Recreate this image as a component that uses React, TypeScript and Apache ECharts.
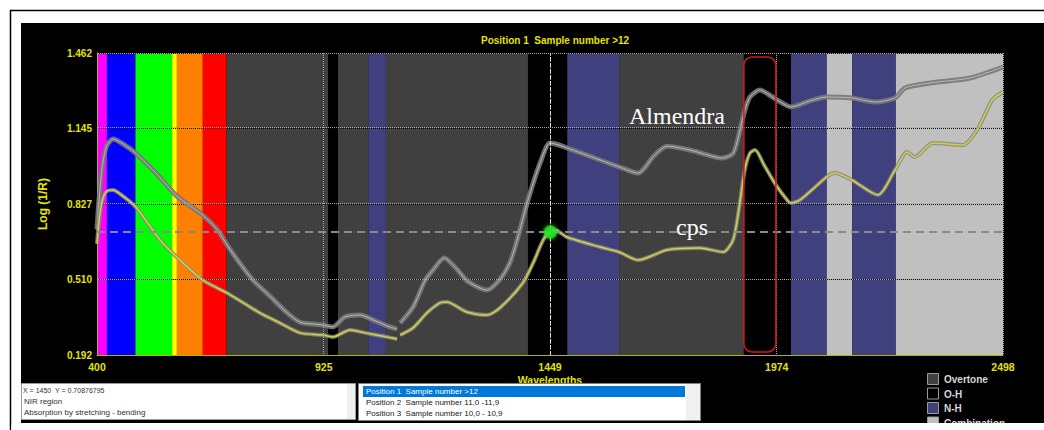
import React, { useEffect, useRef } from "react";
import * as echarts from "echarts";

// Axis ticks
const wavelengthTicks = [400, 925, 1449, 1974, 2498];
const logTicks = [0.192, 0.51, 0.827, 1.145, 1.462];

// Mean spectra, [wavelength nm, log(1/R)]; the '-' marks the detector change at 1100 nm
const almendra: (number | string)[][] = [
  [400, 0.72], [405, 0.85], [412, 0.98], [422, 1.07], [437, 1.1], [460, 1.08], [490, 1.04],
  [540, 0.95], [585, 0.86], [645, 0.78], [678, 0.72], [701, 0.655], [730, 0.58], [761, 0.507],
  [800, 0.44], [840, 0.37], [870, 0.33], [900, 0.322], [923, 0.318], [946, 0.31], [974, 0.352],
  [1009, 0.36], [1045, 0.335], [1078, 0.31], [1095, 0.301], [1099, "-"], [1102, 0.327],
  [1132, 0.394], [1160, 0.507], [1178, 0.549], [1204, 0.6], [1230, 0.56], [1260, 0.5],
  [1303, 0.465], [1333, 0.51], [1356, 0.58], [1373, 0.676], [1398, 0.844], [1426, 0.999],
  [1449, 1.083], [1470, 1.075], [1488, 1.063], [1565, 1.012], [1609, 0.983], [1653, 0.957],
  [1690, 1.03], [1720, 1.07], [1773, 1.054], [1820, 1.03], [1847, 1.02], [1873, 1.04],
  [1889, 1.138], [1900, 1.22], [1912, 1.277], [1935, 1.306], [1970, 1.27], [2007, 1.235],
  [2050, 1.26], [2090, 1.277], [2148, 1.273], [2202, 1.256], [2248, 1.273], [2271, 1.315],
  [2329, 1.336], [2422, 1.357], [2498, 1.403],
];

const cps: (number | string)[][] = [
  [400, 0.66], [405, 0.76], [412, 0.84], [422, 0.88], [437, 0.886], [460, 0.86], [490, 0.814],
  [546, 0.676], [592, 0.591], [645, 0.507], [701, 0.453], [740, 0.41], [777, 0.369],
  [820, 0.33], [870, 0.285], [923, 0.276], [946, 0.268], [986, 0.297], [1021, 0.285],
  [1060, 0.272], [1095, 0.259], [1099, "-"], [1102, 0.276], [1132, 0.306], [1164, 0.369],
  [1194, 0.411], [1210, 0.415], [1256, 0.373], [1303, 0.36], [1333, 0.39], [1386, 0.495],
  [1410, 0.579], [1437, 0.688], [1461, 0.718], [1488, 0.688], [1565, 0.646], [1609, 0.625],
  [1653, 0.591], [1720, 0.634], [1796, 0.642], [1850, 0.625], [1873, 0.676], [1886, 0.8],
  [1900, 0.97], [1912, 1.041], [1924, 1.054], [1945, 0.99], [1972, 0.907], [2000, 0.84],
  [2007, 0.831], [2028, 0.844], [2090, 0.941], [2109, 0.957], [2148, 0.928], [2208, 0.865],
  [2248, 0.97], [2276, 1.046], [2294, 1.025], [2336, 1.084], [2405, 1.075], [2438, 1.138],
  [2473, 1.264], [2498, 1.298],
];

// Cursor readout
const cursorWavelength = 1450;
const cursorLog = 0.70876795;

// Spectral regions shown behind the spectra
const bandRanges = [
  [400, 423], [423, 489], [489, 574], [574, 585], [585, 645], [645, 700], [700, 935],
  [935, 958], [958, 1028], [1028, 1069], [1069, 1398], [1398, 1489], [1489, 1609],
  [1609, 1898], [1898, 2007], [2007, 2090], [2090, 2149], [2149, 2250], [2250, 2498],
];
const bandKinds = [
  "violet", "blue", "green", "yellow", "orange", "red", "overtone", "oh", "overtone", "nh",
  "overtone", "oh", "nh", "overtone", "oh", "nh", "combination", "nh", "combination",
];

const legendLabels = ["Overtone", "O-H", "N-H", "Combination"];
const legendKinds = ["overtone", "oh", "nh", "combination"];

const sampleGroups = [
  "Position 1  Sample number >12",
  "Position 2  Sample number 11,0 -11,9",
  "Position 3  Sample number 10,0 - 10,9",
];
const regionInfo = ["NIR region", "Absorption by stretching - bending"];

// Highlighted O-H window and curve captions (data coordinates)
const highlightWindow = [1898, 1972];
const highlightLevels = [0.205, 1.445];
const almendraCaptionAt = [1743, 1.197];
const cpsCaptionAt = [1778, 0.73];

const kindColor: Record<string, string> = {
  violet: "#ff00ff",
  blue: "#0000ff",
  green: "#00ff00",
  yellow: "#ffff00",
  orange: "#ff8000",
  red: "#ff0000",
  overtone: "#404040",
  oh: "#000000",
  nh: "#40407f",
  combination: "#c0c0c0",
};

const YELLOW = "#e4e400";
const SANS = '"Liberation Sans", Arial, sans-serif';

function buildOption() {
  const gridDots = [
    ...logTicks.slice(1).map((v) => ({ yAxis: v })),
    ...wavelengthTicks.slice(1).map((v) => ({ xAxis: v })),
  ];
  return {
    animation: false,
    backgroundColor: "#ffffff",
    textStyle: { fontFamily: SANS },
    title: {
      text: sampleGroups[0],
      left: 476,
      top: 30,
      textStyle: { color: YELLOW, fontSize: 10, fontWeight: "bold", fontFamily: SANS },
    },
    grid: { left: 97, top: 53, right: 41, bottom: 75 },
    xAxis: {
      type: "value",
      min: 400,
      max: 2498,
      z: 2,
      name: "Wavelengths",
      nameLocation: "middle",
      nameGap: 19,
      nameMoveOverlap: false,
      nameTextStyle: { color: YELLOW, fontSize: 10.5, fontWeight: "bold", fontFamily: SANS },
      axisLine: { show: true, onZero: false, lineStyle: { color: "#b4b400", width: 1 } },
      axisTick: { show: false, customValues: wavelengthTicks },
      axisLabel: {
        customValues: wavelengthTicks,
        color: YELLOW,
        fontSize: 10.5,
        fontWeight: "bold",
        fontFamily: SANS,
        margin: 6,
        formatter: (v: number) => String(v),
      },
      splitLine: {
        show: true,
        showMinLine: false,
        lineStyle: { color: "#0a0a0a", width: 1, type: [1, 1] },
      },
    },
    yAxis: {
      type: "value",
      min: 0.192,
      max: 1.462,
      z: 2,
      name: "Log (1/R)",
      nameLocation: "middle",
      nameGap: 48,
      nameRotate: 90,
      nameTextStyle: { color: YELLOW, fontSize: 12, fontWeight: "bold", fontFamily: SANS },
      axisLine: { show: true, onZero: false, lineStyle: { color: "#b4b400", width: 1 } },
      axisTick: { show: false, customValues: logTicks },
      axisLabel: {
        customValues: logTicks,
        color: YELLOW,
        fontSize: 10,
        fontWeight: "bold",
        fontFamily: SANS,
        margin: 5,
        formatter: (v: number) => v.toFixed(3),
      },
      splitLine: {
        show: true,
        showMinLine: false,
        lineStyle: { color: "#0a0a0a", width: 1, type: [1, 1] },
      },
    },
    series: [
      {
        name: "regions",
        type: "line",
        data: [],
        z: 1,
        silent: true,
        markArea: {
          silent: true,
          data: bandRanges.map((r, i) => [
            { xAxis: r[0], itemStyle: { color: kindColor[bandKinds[i]], opacity: 1 } },
            { xAxis: r[1] },
          ]),
        },
      },
      {
        name: "grid-dots",
        type: "line",
        data: [],
        z: 2.5,
        silent: true,
        markLine: {
          silent: true,
          symbol: ["none", "none"],
          label: { show: false },
          lineStyle: { color: "#a8a8a8", width: 1, type: [1, 1], dashOffset: 1 },
          data: gridDots,
        },
      },
      {
        name: "Almendra replicates",
        type: "line",
        data: almendra,
        z: 3,
        smooth: 0.25,
        showSymbol: false,
        connectNulls: false,
        silent: true,
        lineStyle: { color: "rgba(120,120,120,0.9)", width: 5 },
      },
      {
        name: "Almendra",
        type: "line",
        data: almendra,
        z: 3,
        smooth: 0.25,
        showSymbol: false,
        connectNulls: false,
        silent: true,
        lineStyle: { color: "#b8b8b8", width: 1 },
      },
      {
        name: "cps replicates",
        type: "line",
        data: cps,
        z: 3,
        smooth: 0.25,
        showSymbol: false,
        connectNulls: false,
        silent: true,
        lineStyle: { color: "rgba(135,135,135,0.85)", width: 4 },
      },
      {
        name: "cps",
        type: "line",
        data: cps,
        z: 3,
        smooth: 0.25,
        showSymbol: false,
        connectNulls: false,
        silent: true,
        lineStyle: { color: "#d6d23a", width: 1.5 },
      },
      {
        name: "cursor",
        type: "line",
        data: [],
        z: 4,
        silent: true,
        markLine: {
          silent: true,
          symbol: ["none", "none"],
          label: { show: false },
          data: [
            { xAxis: cursorWavelength, lineStyle: { color: "#e0e0e0", width: 1, type: [4, 2] } },
            { yAxis: cursorLog, lineStyle: { color: "#8a8a8a", width: 2, type: [8, 5] } },
          ],
        },
      },
      {
        name: "cursor point",
        type: "scatter",
        data: [[cursorWavelength, cursorLog]],
        z: 5,
        silent: true,
        symbolSize: 13,
        itemStyle: { color: "#22e022", shadowBlur: 4, shadowColor: "#40ff40" },
      },
    ],
  };
}

function buildGraphic(chart: echarts.ECharts) {
  const px = (p: number[]) => chart.convertToPixel({ gridIndex: 0 }, p) as number[];
  const hiA = px([highlightWindow[0], highlightLevels[1]]);
  const hiB = px([highlightWindow[1], highlightLevels[0]]);
  const almPos = px(almendraCaptionAt);
  const cpsPos = px(cpsCaptionAt);

  const small = (size: number, weight = "normal") => `${weight} ${size}px ${SANS}`;

  const legend = legendLabels.flatMap((label, i) => {
    const y = 373.5 + i * 14.5;
    return [
      {
        type: "rect",
        z: 10,
        shape: { x: 927.5, y, width: 11, height: 11 },
        style: { fill: kindColor[legendKinds[i]], stroke: "#9a9a9a", lineWidth: 1 },
      },
      {
        type: "text",
        z: 10,
        style: {
          x: 944,
          y: y + 6,
          text: label,
          font: small(10, "bold"),
          fill: "#d8d8d8",
          verticalAlign: "middle",
        },
      },
    ];
  });

  const listRows = sampleGroups.map((t, i) => ({
    type: "text",
    z: 11,
    style: {
      x: 366,
      y: 391.5 + i * 11,
      text: t,
      font: small(8),
      fill: i === 0 ? "#ffffff" : "#202020",
      verticalAlign: "middle",
    },
  }));

  const infoRows = regionInfo.map((t, i) => ({
    type: "text",
    z: 11,
    style: {
      x: 24,
      y: 401 + i * 11,
      text: t,
      font: small(8),
      fill: "#303030",
      verticalAlign: "middle",
    },
  }));

  return [
    // page frame and dark panel
    {
      type: "rect",
      z: 0,
      silent: true,
      shape: { x: 10.5, y: 10.5, width: 1100, height: 500 },
      style: { fill: "#ffffff", stroke: "#000000", lineWidth: 1.5 },
    },
    {
      type: "rect",
      z: 0,
      silent: true,
      shape: { x: 21, y: 23, width: 1030, height: 400 },
      style: { fill: "#000000" },
    },
    // O-H highlight window
    {
      type: "rect",
      z: 6,
      silent: true,
      shape: { x: hiA[0], y: hiA[1], width: hiB[0] - hiA[0], height: hiB[1] - hiA[1], r: 8 },
      style: { fill: "none", stroke: "#d81818", lineWidth: 1.5 },
    },
    // curve captions
    {
      type: "text",
      z: 6,
      silent: true,
      style: {
        x: almPos[0],
        y: almPos[1],
        text: "Almendra",
        font: `24px "Liberation Serif", "Times New Roman", serif`,
        fill: "#ffffff",
        align: "center",
        verticalAlign: "middle",
      },
    },
    {
      type: "text",
      z: 6,
      silent: true,
      style: {
        x: cpsPos[0],
        y: cpsPos[1],
        text: "cps",
        font: `24px "Liberation Serif", "Times New Roman", serif`,
        fill: "#ffffff",
        align: "center",
        verticalAlign: "middle",
      },
    },
    // cursor readout box
    {
      type: "rect",
      z: 10,
      silent: true,
      shape: { x: 21.5, y: 383.5, width: 334, height: 36 },
      style: { fill: "#ffffff", stroke: "#9a9a9a", lineWidth: 1 },
    },
    {
      type: "rect",
      z: 10,
      silent: true,
      shape: { x: 347, y: 384, width: 8, height: 35 },
      style: { fill: "#f0f0f0" },
    },
    {
      type: "text",
      z: 11,
      style: {
        x: 23,
        y: 390,
        text: `X = ${cursorWavelength}`,
        font: small(7),
        fill: "#303030",
        verticalAlign: "middle",
      },
    },
    {
      type: "text",
      z: 11,
      style: {
        x: 55,
        y: 390,
        text: `Y = ${cursorLog}`,
        font: small(7),
        fill: "#303030",
        verticalAlign: "middle",
      },
    },
    ...infoRows,
    // sample group list
    {
      type: "rect",
      z: 10,
      silent: true,
      shape: { x: 358.5, y: 383.5, width: 342, height: 37 },
      style: { fill: "#ffffff", stroke: "#808080", lineWidth: 1 },
    },
    {
      type: "rect",
      z: 10,
      silent: true,
      shape: { x: 686, y: 384, width: 14, height: 36 },
      style: { fill: "#f0f0f0" },
    },
    {
      type: "rect",
      z: 10,
      silent: true,
      shape: { x: 363, y: 386, width: 322, height: 11 },
      style: { fill: "#0078d7" },
    },
    ...listRows,
    // region legend
    ...legend,
    // bottom margin strip
    {
      type: "rect",
      z: 12,
      silent: true,
      shape: { x: 11.5, y: 423, width: 1040, height: 10 },
      style: { fill: "#ffffff" },
    },
  ];
}

export default function App() {
  const ref = useRef<HTMLDivElement>(null);
  useEffect(() => {
    if (!ref.current) return;
    const chart = echarts.init(ref.current, null, { renderer: "svg" });
    chart.setOption(buildOption());
    chart.setOption({ graphic: buildGraphic(chart) });
    return () => chart.dispose();
  }, []);
  return (
    <div
      ref={ref}
      style={{ position: "fixed", left: 0, top: 0, width: 1044, height: 430 }}
    />
  );
}
